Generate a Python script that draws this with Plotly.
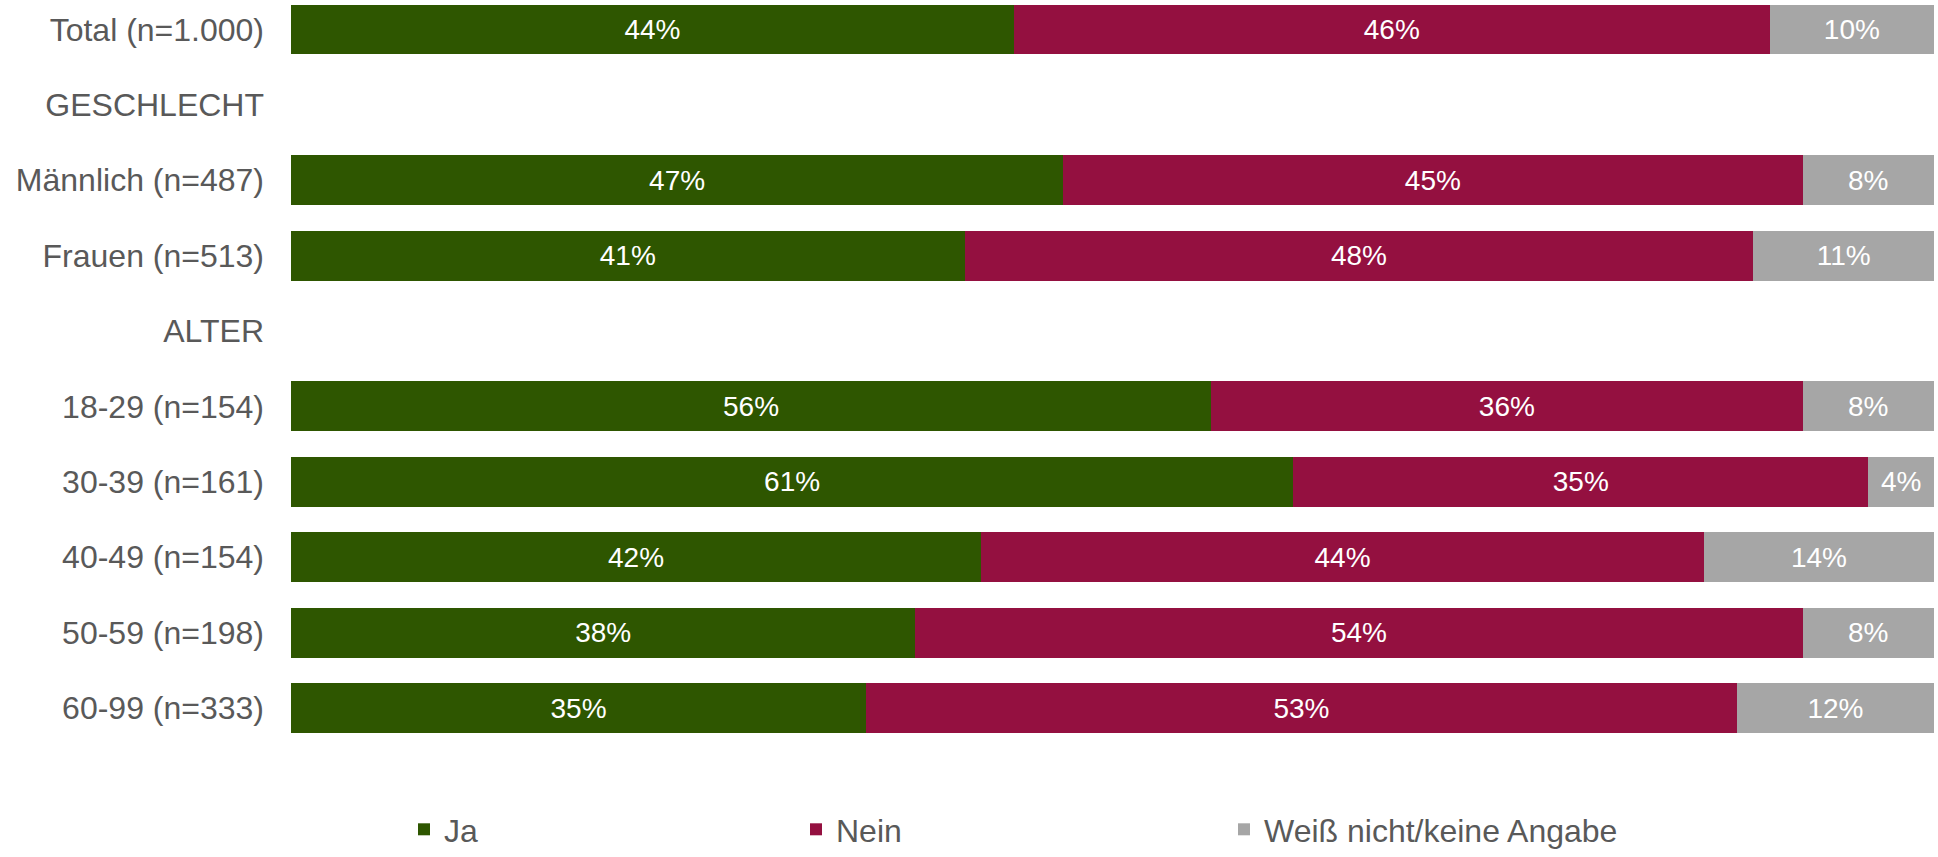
import plotly.graph_objects as go

categories = ["Total (n=1.000)", "GESCHLECHT", "Männlich (n=487)", "Frauen (n=513)",
              "ALTER", "18-29 (n=154)", "30-39 (n=161)", "40-49 (n=154)",
              "50-59 (n=198)", "60-99 (n=333)"]
ja = [44, None, 47, 41, None, 56, 61, 42, 38, 35]
nein = [46, None, 45, 48, None, 36, 35, 44, 54, 53]
weiss = [10, None, 8, 11, None, 8, 4, 14, 8, 12]

series = [
    ("Ja", ja, "#2E5600", "legend"),
    ("Nein", nein, "#941040", "legend2"),
    ("Weiß nicht/keine Angabe", weiss, "#A6A6A6", "legend3"),
]

FONT = "Liberation Sans, Arial, sans-serif"
fig = go.Figure()
for name, vals, color, lg in series:
    fig.add_trace(go.Bar(
        y=categories, x=vals, name=name, orientation="h",
        marker=dict(color=color, line=dict(width=0)),
        text=[("" if v is None else f"{v}%") for v in vals],
        textposition="inside", insidetextanchor="middle",
        constraintext="none",
        textfont=dict(color="white", size=28, family=FONT),
        legend=lg, hoverinfo="skip",
    ))

W, H = 1938, 857
L, R, T, B = 291, 4, 0, 97
ph = H - T - B
pw = W - L - R
c0, step = 29.5, 75.39

def lx(px):
    return (px - L) / pw

leg_common = dict(orientation="h", yanchor="bottom", xanchor="left",
                  yref="container", y=0.0,
                  font=dict(size=32, color="#595959", family=FONT),
                  bgcolor="rgba(0,0,0,0)", borderwidth=0)

fig.update_layout(
    width=W, height=H, barmode="stack", bargap=0.337,
    margin=dict(l=L, r=R, t=T, b=B, pad=0, autoexpand=False),
    plot_bgcolor="white", paper_bgcolor="white",
    font=dict(family=FONT, color="#595959"),
    xaxis=dict(range=[0, 100], visible=False, fixedrange=True),
    yaxis=dict(type="category", categoryorder="array", categoryarray=categories,
               range=[(ph - c0) / step, -c0 / step],
               showgrid=False, zeroline=False, showline=False, ticks="",
               ticklabelstandoff=26,
               tickfont=dict(size=32, color="#595959", family=FONT)),
    legend=dict(x=lx(404), **leg_common),
    legend2=dict(x=lx(796), **leg_common),
    legend3=dict(x=lx(1224), **leg_common),
    showlegend=True,
)

fig.write_html("out.html")
